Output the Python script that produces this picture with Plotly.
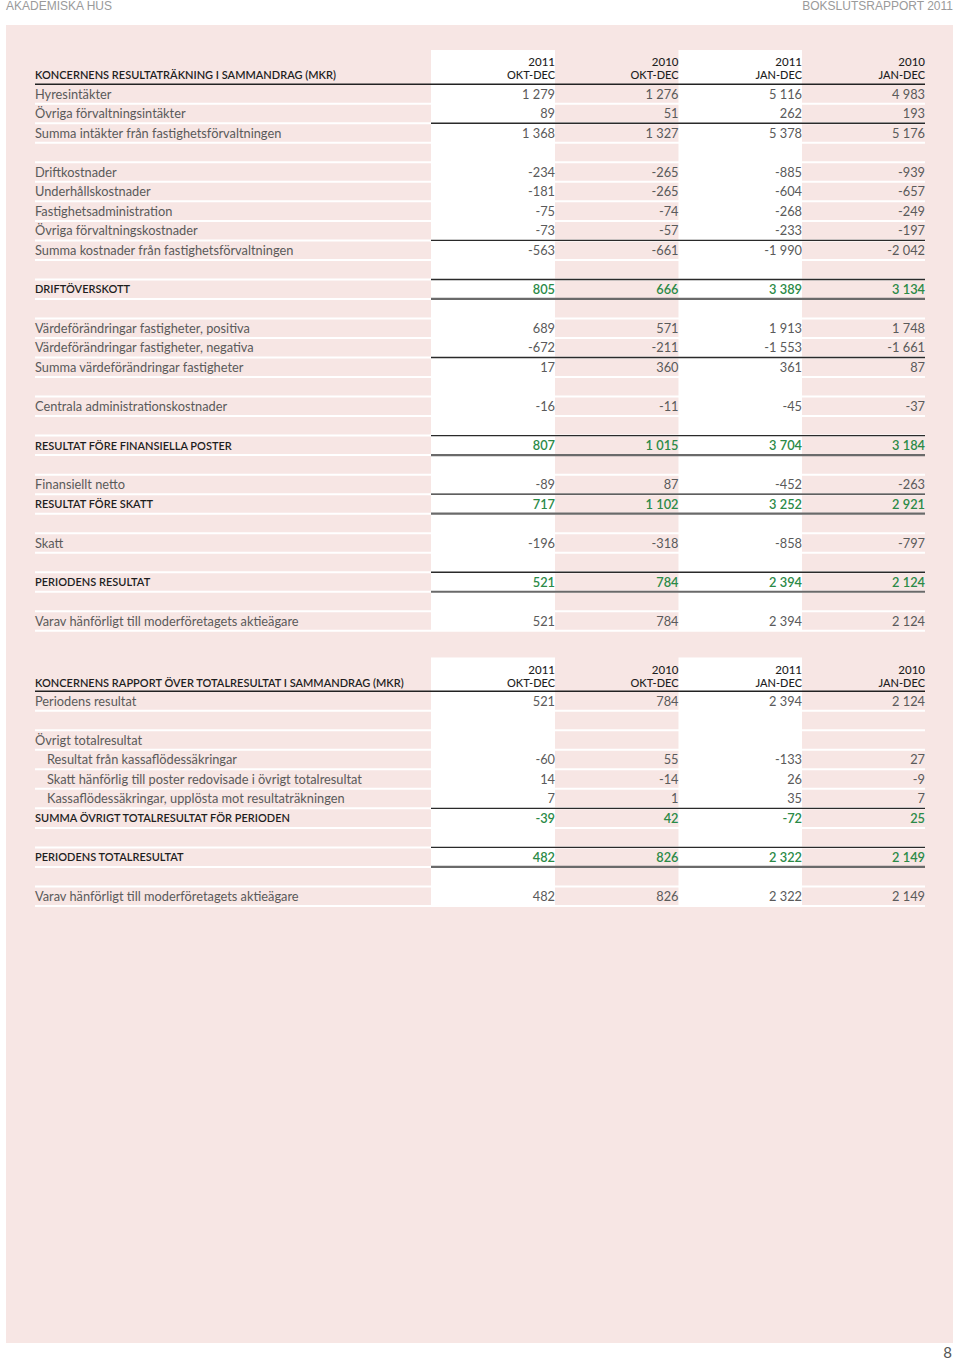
import plotly.graph_objects as go

# ---------------- DATA ----------------
page_left = "AKADEMISKA HUS"
page_right = "BOKSLUTSRAPPORT 2011"
page_number = "8"

col_years = ["2011", "2010", "2011", "2010"]
col_periods = ["OKT-DEC", "OKT-DEC", "JAN-DEC", "JAN-DEC"]

title1 = "KONCERNENS RESULTATRÄKNING I SAMMANDRAG (MKR)"
labels1 = [
    "Hyresintäkter",
    "Övriga förvaltningsintäkter",
    "Summa intäkter från fastighetsförvaltningen",
    "",
    "Driftkostnader",
    "Underhållskostnader",
    "Fastighetsadministration",
    "Övriga förvaltningskostnader",
    "Summa kostnader från fastighetsförvaltningen",
    "",
    "DRIFTÖVERSKOTT",
    "",
    "Värdeförändringar fastigheter, positiva",
    "Värdeförändringar fastigheter, negativa",
    "Summa värdeförändringar fastigheter",
    "",
    "Centrala administrationskostnader",
    "",
    "RESULTAT FÖRE FINANSIELLA POSTER",
    "",
    "Finansiellt netto",
    "RESULTAT FÖRE SKATT",
    "",
    "Skatt",
    "",
    "PERIODENS RESULTAT",
    "",
    "Varav hänförligt till moderföretagets aktieägare",
]
t1_2011_q4 = [1279, 89, 1368, None, -234, -181, -75, -73, -563, None, 805, None,
              689, -672, 17, None, -16, None, 807, None, -89, 717, None, -196,
              None, 521, None, 521]
t1_2010_q4 = [1276, 51, 1327, None, -265, -265, -74, -57, -661, None, 666, None,
              571, -211, 360, None, -11, None, 1015, None, 87, 1102, None, -318,
              None, 784, None, 784]
t1_2011_y = [5116, 262, 5378, None, -885, -604, -268, -233, -1990, None, 3389, None,
             1913, -1553, 361, None, -45, None, 3704, None, -452, 3252, None, -858,
             None, 2394, None, 2394]
t1_2010_y = [4983, 193, 5176, None, -939, -657, -249, -197, -2042, None, 3134, None,
             1748, -1661, 87, None, -37, None, 3184, None, -263, 2921, None, -797,
             None, 2124, None, 2124]
t1_bold = [10, 18, 21, 25]
t1_rule_above = [2, 8, 10, 14, 18, 21, 25]
t1_rule_below = [10, 18, 21, 25]

title2 = "KONCERNENS RAPPORT ÖVER TOTALRESULTAT I SAMMANDRAG (MKR)"
labels2 = [
    "Periodens resultat",
    "",
    "Övrigt totalresultat",
    "Resultat från kassaflödessäkringar",
    "Skatt hänförlig till poster redovisade i övrigt totalresultat",
    "Kassaflödessäkringar, upplösta mot resultaträkningen",
    "SUMMA ÖVRIGT TOTALRESULTAT FÖR PERIODEN",
    "",
    "PERIODENS TOTALRESULTAT",
    "",
    "Varav hänförligt till moderföretagets aktieägare",
]
t2_2011_q4 = [521, None, None, -60, 14, 7, -39, None, 482, None, 482]
t2_2010_q4 = [784, None, None, 55, -14, 1, 42, None, 826, None, 826]
t2_2011_y = [2394, None, None, -133, 26, 35, -72, None, 2322, None, 2322]
t2_2010_y = [2124, None, None, 27, -9, 7, 25, None, 2149, None, 2149]
t2_bold = [6, 8]
t2_indent = [3, 4, 5]
t2_rule_above = [6, 8]
t2_rule_below = [8]

# ---------------- LAYOUT CONSTANTS ----------------
PAGE_W, PAGE_H = 960, 1360
PINK = "#f7e6e4"
GREEN = "#2b8a47"
GREY_TXT = "#5a5a5a"
DARK_TXT = "#1e1e1e"
FONT = "Lato"
PITCH = 19.52
TXT_DY = 1.5
LABEL_X = 35
TABLE_R = 925
VALUES_L = 431
COL_R = [555, 678.5, 802, 925]
COL_L = [431, 555, 678.5, 802]


def fmt(v):
    if v is None:
        return ""
    s = f"{abs(v):,}".replace(",", " ")
    return ("-" if v < 0 else "") + s


fig = go.Figure()
shapes = []

# page pink panel
shapes.append(dict(type="rect", xref="x", yref="y", x0=6, x1=953, y0=25, y1=1343,
                   fillcolor=PINK, line=dict(width=0), layer="below"))


def add_table(title, labels, cols, bold, indent, rule_above, rule_below, header_y, row0_y):
    n = len(labels)
    ys = [row0_y + i * PITCH for i in range(n)]
    yt = [y + TXT_DY for y in ys]
    top = header_y - 25
    bottom = ys[-1] + PITCH / 2
    for ci in (0, 2):
        shapes.append(dict(type="rect", xref="x", yref="y", x0=COL_L[ci], x1=COL_R[ci],
                           y0=top, y1=bottom, fillcolor="white", line=dict(width=0),
                           layer="below"))
    for i in range(n):
        yb = ys[i] + PITCH / 2
        shapes.append(dict(type="line", xref="x", yref="y", x0=LABEL_X, x1=TABLE_R,
                           y0=yb, y1=yb, line=dict(color="white", width=2), layer="below"))
    hr = ys[0] - PITCH / 2
    shapes.append(dict(type="line", xref="x", yref="y", x0=LABEL_X, x1=TABLE_R,
                       y0=hr, y1=hr, line=dict(color="#222222", width=1.6)))
    for i in rule_above:
        y = ys[i] - PITCH / 2
        shapes.append(dict(type="line", xref="x", yref="y", x0=VALUES_L, x1=TABLE_R,
                           y0=y, y1=y, line=dict(color="#2a2a2a", width=1.4)))
    for i in rule_below:
        y = ys[i] + PITCH / 2
        shapes.append(dict(type="line", xref="x", yref="y", x0=VALUES_L, x1=TABLE_R,
                           y0=y, y1=y, line=dict(color="#6a6a6a", width=2.2)))

    hy = header_y + TXT_DY
    fig.add_trace(go.Scatter(x=[LABEL_X], y=[hy], mode="text", text=[title],
                             textposition="middle right",
                             textfont=dict(family=FONT, size=11, color=DARK_TXT, weight=600),
                             hoverinfo="skip", showlegend=False))
    fig.add_trace(go.Scatter(x=COL_R, y=[hy - 13] * 4, mode="text", text=col_years,
                             textposition="middle left",
                             textfont=dict(family=FONT, size=11.5, color=DARK_TXT, weight=500),
                             hoverinfo="skip", showlegend=False))
    fig.add_trace(go.Scatter(x=COL_R, y=[hy] * 4, mode="text", text=col_periods,
                             textposition="middle left",
                             textfont=dict(family=FONT, size=11, color=DARK_TXT, weight=500),
                             hoverinfo="skip", showlegend=False))

    norm_idx = [i for i in range(n) if labels[i] and i not in bold]
    bold_idx = [i for i in bold]
    fig.add_trace(go.Scatter(
        x=[LABEL_X + (12 if i in indent else 0) for i in norm_idx],
        y=[yt[i] for i in norm_idx], mode="text", text=[labels[i] for i in norm_idx],
        textposition="middle right",
        textfont=dict(family=FONT, size=12.8, color=GREY_TXT, weight=400),
        hoverinfo="skip", showlegend=False))
    fig.add_trace(go.Scatter(
        x=[LABEL_X] * len(bold_idx), y=[yt[i] for i in bold_idx], mode="text",
        text=[labels[i] for i in bold_idx], textposition="middle right",
        textfont=dict(family=FONT, size=11, color=DARK_TXT, weight=600),
        hoverinfo="skip", showlegend=False))

    for ci, col in enumerate(cols):
        nidx = [i for i in range(n) if col[i] is not None and i not in bold]
        bidx = [i for i in range(n) if col[i] is not None and i in bold]
        fig.add_trace(go.Scatter(
            x=[COL_R[ci]] * len(nidx), y=[yt[i] for i in nidx], mode="text",
            text=[fmt(col[i]) for i in nidx], textposition="middle left",
            textfont=dict(family=FONT, size=12.8, color=GREY_TXT, weight=400),
            hoverinfo="skip", showlegend=False))
        fig.add_trace(go.Scatter(
            x=[COL_R[ci]] * len(bidx), y=[yt[i] for i in bidx], mode="text",
            text=[fmt(col[i]) for i in bidx], textposition="middle left",
            textfont=dict(family=FONT, size=12.8, color=GREEN, weight=600),
            hoverinfo="skip", showlegend=False))


add_table(title1, labels1, [t1_2011_q4, t1_2010_q4, t1_2011_y, t1_2010_y],
          t1_bold, [], t1_rule_above, t1_rule_below, header_y=75, row0_y=94)
add_table(title2, labels2, [t2_2011_q4, t2_2010_q4, t2_2011_y, t2_2010_y],
          t2_bold, t2_indent, t2_rule_above, t2_rule_below, header_y=682.5, row0_y=701)

# page header / footer
fig.add_trace(go.Scatter(x=[6], y=[7], mode="text", text=[page_left],
                         textposition="middle right",
                         textfont=dict(family="Liberation Sans", size=12, color="#9a9a9a"),
                         hoverinfo="skip", showlegend=False, cliponaxis=False))
fig.add_trace(go.Scatter(x=[953], y=[7], mode="text", text=[page_right],
                         textposition="middle left",
                         textfont=dict(family="Liberation Sans", size=12, color="#9a9a9a"),
                         hoverinfo="skip", showlegend=False, cliponaxis=False))
fig.add_trace(go.Scatter(x=[952], y=[1354], mode="text", text=[page_number],
                         textposition="middle left",
                         textfont=dict(family=FONT, size=15, color="#555555"),
                         hoverinfo="skip", showlegend=False, cliponaxis=False))

fig.update_layout(
    width=PAGE_W, height=PAGE_H,
    margin=dict(l=0, r=0, t=0, b=0),
    paper_bgcolor="white", plot_bgcolor="white",
    shapes=shapes,
    xaxis=dict(range=[0, PAGE_W], visible=False, fixedrange=True),
    yaxis=dict(range=[PAGE_H, 0], visible=False, fixedrange=True),
    showlegend=False,
)

fig.write_html(
    "out.html",
    config={"displayModeBar": False},
    post_script="document.body.style.margin='0';document.body.style.overflow='hidden';",
)
